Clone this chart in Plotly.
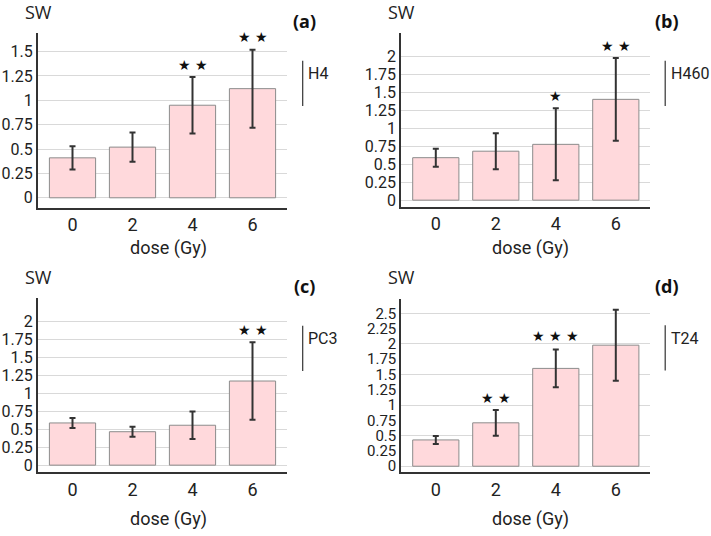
import plotly.graph_objects as go

doses = ["0", "2", "4", "6"]

h4_mean = [0.41, 0.52, 0.95, 1.12]
h4_err = [0.12, 0.15, 0.29, 0.40]
h4_sig = ["", "", "★ ★", "★ ★"]
h4_sig_y = [0, 0, 1.36, 1.65]

h460_mean = [0.59, 0.68, 0.775, 1.40]
h460_err = [0.125, 0.25, 0.50, 0.575]
h460_sig = ["", "", "★", "★ ★"]
h460_sig_y = [0, 0, 1.45, 2.14]

pc3_mean = [0.587, 0.465, 0.555, 1.17]
pc3_err = [0.07, 0.07, 0.19, 0.54]
pc3_sig = ["", "", "", "★ ★"]
pc3_sig_y = [0, 0, 0, 1.88]

t24_mean = [0.43, 0.71, 1.60, 1.98]
t24_err = [0.065, 0.21, 0.31, 0.58]
t24_sig = ["", "★ ★", "★ ★ ★", "★ ★ ★"]
t24_sig_y = [0, 1.12, 2.13, 2.76]

yticks_a = [0, 0.25, 0.5, 0.75, 1, 1.25, 1.5]
yticks_bc = [0, 0.25, 0.5, 0.75, 1, 1.25, 1.5, 1.75, 2]
yticks_d = [0, 0.25, 0.5, 0.75, 1, 1.25, 1.5, 1.75, 2, 2.25, 2.5]
ygrid_d = [0, 0.5, 1, 1.5, 2, 2.5]

W, H = 711, 536
NARROW = "Roboto, Liberation Sans, sans-serif"


def px_x(x):
    return x / W


def px_y(y):
    return 1 - y / H


panels = [
    dict(mean=h4_mean, err=h4_err, sig=h4_sig, sigy=h4_sig_y, ticks=yticks_a, grid=None,
         yr=[-0.10, 1.69], xd=[37.7, 286.7], yd=[33.3, 208.7], cell="H4", tag="(a)",
         ox=0, oy=0, tfs=16),
    dict(mean=h460_mean, err=h460_err, sig=h460_sig, sigy=h460_sig_y, ticks=yticks_bc, grid=None,
         yr=[-0.097, 2.32], xd=[401, 650], yd=[33.3, 208.3], cell="H460", tag="(b)",
         ox=362.5, oy=0, tfs=16),
    dict(mean=pc3_mean, err=pc3_err, sig=pc3_sig, sigy=pc3_sig_y, ticks=yticks_bc, grid=None,
         yr=[-0.10, 2.32], xd=[37.7, 286.7], yd=[300, 475], cell="PC3", tag="(c)",
         ox=0, oy=266.5, tfs=16),
    dict(mean=t24_mean, err=t24_err, sig=t24_sig, sigy=t24_sig_y, ticks=yticks_d, grid=ygrid_d,
         yr=[-0.10, 2.73], xd=[401, 650], yd=[301, 475], cell="T24", tag="(d)",
         ox=362.5, oy=266, tfs=15),
]

fig = go.Figure()
annotations = []
shapes = []

for i, p in enumerate(panels, start=1):
    xa = "x" if i == 1 else f"x{i}"
    ya = "y" if i == 1 else f"y{i}"
    fig.add_trace(go.Bar(
        x=doses, y=p["mean"], xaxis=xa, yaxis=ya, width=0.77,
        marker=dict(color="#ffd9dc", line=dict(color="#8c8c8c", width=1)),
        error_y=dict(type="data", array=p["err"], visible=True, color="#333333",
                     thickness=2, width=3),
        showlegend=False, hoverinfo="skip",
    ))
    xkey = "xaxis" if i == 1 else f"xaxis{i}"
    ykey = "yaxis" if i == 1 else f"yaxis{i}"
    xaxis = dict(domain=[px_x(p["xd"][0]), px_x(p["xd"][1])], anchor=ya,
                 type="category", range=[-0.58, 3.57], showline=True,
                 linecolor="#333333", linewidth=1.5, showgrid=False, ticks="", ticklen=0,
                 tickfont=dict(family=NARROW, size=18, color="#222222"),
                 fixedrange=True)
    yaxis = dict(domain=[px_y(p["yd"][1]), px_y(p["yd"][0])], anchor=xa,
                 range=p["yr"], showline=True, linecolor="#333333", linewidth=1.5,
                 tickmode="array", tickvals=p["ticks"],
                 ticktext=[f"{v:g}" for v in p["ticks"]], zeroline=False,
                 tickfont=dict(family=NARROW, size=p["tfs"], color="#222222"),
                 ticks="", ticklen=0, fixedrange=True)
    if p["grid"] is None:
        yaxis.update(showgrid=True, gridcolor="#d9d9d9", gridwidth=1)
    else:
        yaxis.update(showgrid=False,
                     minor=dict(tickmode="array", tickvals=p["grid"], showgrid=True,
                                gridcolor="#d9d9d9", gridwidth=1, ticks=""))
    fig.update_layout({xkey: xaxis, ykey: yaxis})

    # significance stars (category index positions)
    for k, (s, sy) in enumerate(zip(p["sig"], p["sigy"])):
        if s:
            annotations.append(dict(x=k, y=sy, xref=xa, yref=ya, text=s, showarrow=False,
                                    xanchor="center", yanchor="middle",
                                    font=dict(family="DejaVu Sans", size=14, color="#111111")))

    ox, oy = p["ox"], p["oy"]
    annotations.append(dict(x=px_x(38.5 + ox), y=px_y(12.5 + oy), xref="paper", yref="paper",
                            text="SW", showarrow=False, xanchor="center", yanchor="middle",
                            font=dict(family="Open Sans, DejaVu Sans, sans-serif", size=18,
                                      color="#222222")))
    annotations.append(dict(x=px_x(304.5 + ox), y=px_y(21.5 + oy), xref="paper", yref="paper",
                            text=f"<b>{p['tag']}</b>", showarrow=False, xanchor="center",
                            yanchor="middle",
                            font=dict(family="Open Sans, DejaVu Sans, sans-serif", size=18,
                                      color="#111111")))
    annotations.append(dict(x=px_x(306 + ox), y=px_y(74 + oy), xref="paper", yref="paper",
                            text=p["cell"], showarrow=False, xanchor="left", yanchor="middle",
                            font=dict(family=NARROW, size=16, color="#222222")))
    shapes.append(dict(type="line", xref="paper", yref="paper",
                       x0=px_x(302.7 + ox), x1=px_x(302.7 + ox),
                       y0=px_y(61 + oy), y1=px_y(106.7 + oy),
                       line=dict(color="#333333", width=1.2)))
    title_y = 249 if oy == 0 else 522 - oy
    annotations.append(dict(x=px_x(168 + ox), y=px_y(title_y + oy), xref="paper", yref="paper",
                            text="dose (Gy)", showarrow=False, xanchor="center",
                            yanchor="middle",
                            font=dict(family=NARROW, size=18, color="#222222")))

fig.update_layout(
    width=W, height=H, margin=dict(l=0, r=0, t=0, b=0),
    paper_bgcolor="white", plot_bgcolor="white",
    annotations=annotations, shapes=shapes,
)

# the page's default body margin would push the figure 8px right and down
fig.write_html("out.html", config={"displayModeBar": False},
               post_script="document.body.style.margin='0';")
